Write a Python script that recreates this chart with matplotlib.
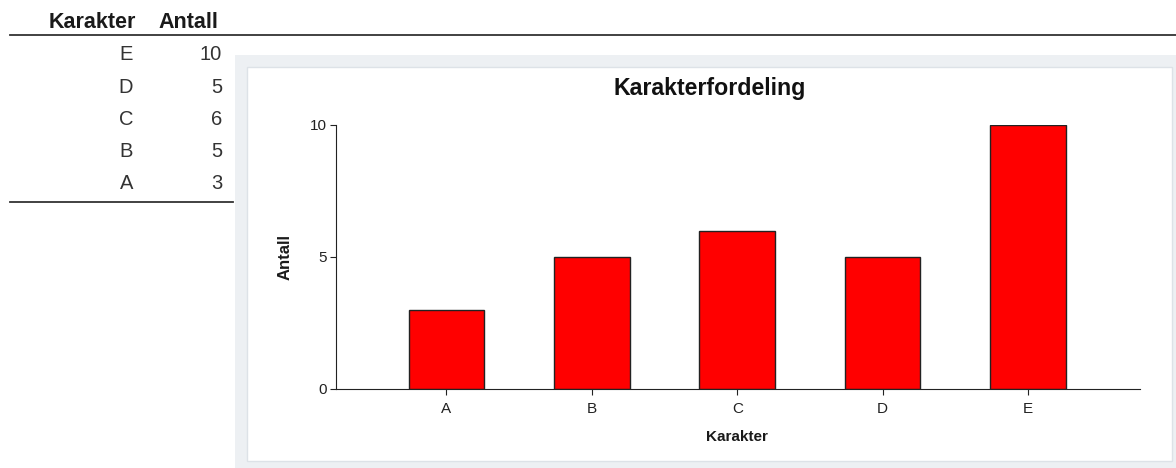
import matplotlib.pyplot as plt
from matplotlib.patches import Rectangle

plt.rcParams['font.family'] = ['Liberation Sans', 'DejaVu Sans']

karakterer = ['A', 'B', 'C', 'D', 'E']
antall = [3, 5, 6, 5, 10]
y_ticks = [0, 5, 10]

fig = plt.figure(figsize=(11.76, 4.68), dpi=100)

W, H = 1176, 468


def fx(px):
    return px / W


def fy(py):
    return 1 - py / H


# grey frame round the chart panel
fig.patches.append(Rectangle((fx(235), 0), fx(W - 235), fy(55), transform=fig.transFigure,
                             facecolor='#edf0f3', edgecolor='none', zorder=-2))
fig.patches.append(Rectangle((fx(247), fy(461)), fx(1172 - 247), (461 - 67) / H, transform=fig.transFigure,
                             facecolor='white', edgecolor='#dde2e7', linewidth=1, zorder=-1))

# table at the top left
fig.text(fx(136), fy(22), 'Karakter', ha='right', va='center', fontsize=15.5, fontweight='bold', color='#1a1a1a')
fig.text(fx(218), fy(22), 'Antall', ha='right', va='center', fontsize=15.5, fontweight='bold', color='#1a1a1a')
fig.add_artist(plt.Line2D([fx(10), 1], [fy(35), fy(35)], transform=fig.transFigure, color='#333333', lw=1.3))
row_y = 55
for k, n in zip(reversed(karakterer), reversed(antall)):
    fig.text(fx(133), fy(row_y), k, ha='right', va='center', fontsize=14.5, color='#333333')
    fig.text(fx(222), fy(row_y), str(n), ha='right', va='center', fontsize=14.5, color='#333333')
    row_y += 32.2
fig.add_artist(plt.Line2D([fx(10), fx(233)], [fy(202), fy(202)], transform=fig.transFigure, color='#333333', lw=1.3))

# bar chart
ax = fig.add_axes([fx(336), fy(389), fx(1140 - 336), (389 - 125) / H])
x = range(len(karakterer))
ax.bar(x, antall, width=0.52, color='#ff0000', edgecolor='#222222', linewidth=1)
ax.set_xlim(-0.76, 4.77)
ax.set_ylim(0, 10)
ax.set_xticks(list(x))
ax.set_xticklabels(karakterer)
ax.set_yticks(y_ticks)
for side in ['top', 'right']:
    ax.spines[side].set_visible(False)
ax.spines['left'].set_color('#222222')
ax.spines['bottom'].set_color('#222222')
ax.tick_params(axis='both', labelsize=11, length=4.3, color='#222222', labelcolor='#222222', pad=2)
ax.tick_params(axis='x', pad=5)
fig.text(fx(737), fy(437), 'Karakter', ha='center', va='center', fontsize=11, fontweight='bold', color='#1a1a1a')
fig.text(fx(285), fy(257), 'Antall', ha='center', va='center', rotation=90, fontsize=12, fontweight='bold',
         color='#1a1a1a')
fig.text(fx(710), fy(89), 'Karakterfordeling', ha='center', va='center', fontsize=16.7, fontweight='bold',
         color='#111111')

fig.savefig('out.png', dpi=100)
